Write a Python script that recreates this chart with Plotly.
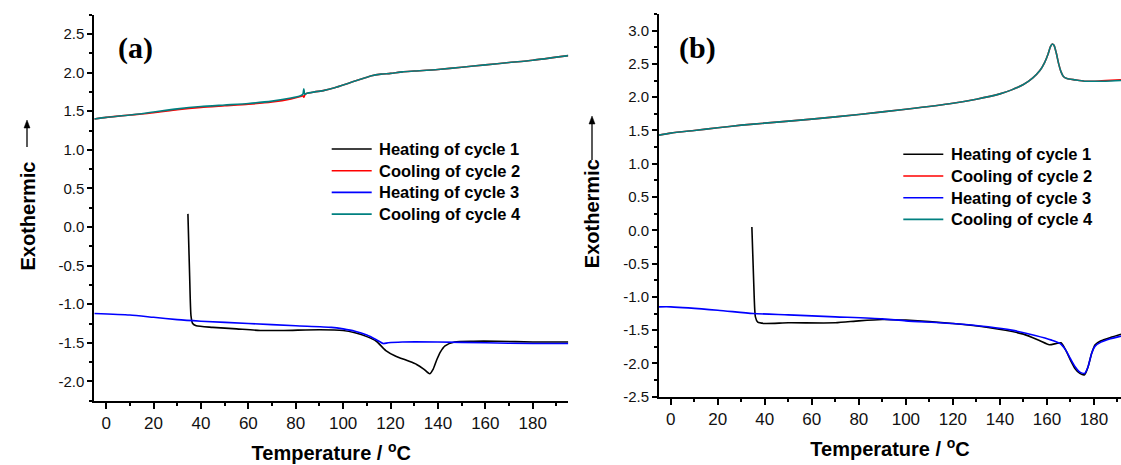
import plotly.graph_objects as go

# ---------------- data ----------------
names = ["Heating of cycle 1", "Cooling of cycle 2", "Heating of cycle 3", "Cooling of cycle 4"]
colors = ["#000000", "#ff0000", "#0000ff", "#008080"]

# panel (a)
a_T_cool = [-5, 0, 10, 20, 30, 40, 50, 60, 70, 78, 82, 83, 83.4, 83.8, 84.5, 88, 92, 96, 100, 104, 108,
            112, 116, 120, 125, 130, 140, 150, 160, 170, 180, 190, 195]
a_cool4 = [1.40, 1.42, 1.45, 1.49, 1.53, 1.56, 1.58, 1.60, 1.63, 1.67, 1.70, 1.72, 1.79, 1.72, 1.73, 1.75,
           1.77, 1.80, 1.84, 1.88, 1.92, 1.96, 1.98, 1.99, 2.01, 2.02, 2.04, 2.07, 2.10, 2.13, 2.16, 2.20, 2.22]
a_cool2 = [1.40, 1.42, 1.45, 1.48, 1.52, 1.55, 1.57, 1.59, 1.62, 1.66, 1.69, 1.70, 1.68, 1.71, 1.73, 1.75,
           1.77, 1.80, 1.84, 1.88, 1.92, 1.96, 1.98, 1.99, 2.01, 2.02, 2.04, 2.07, 2.10, 2.13, 2.16, 2.20, 2.22]
a_T_h1 = [34.5, 35.2, 35.8, 36.5, 38, 45, 55, 65, 75, 90, 100, 105, 110, 114, 118, 122, 127, 131, 134,
          136.5, 138, 139.5, 141, 143, 147, 155, 165, 180, 195]
a_heat1 = [0.17, -0.60, -1.15, -1.25, -1.28, -1.30, -1.32, -1.34, -1.34, -1.33, -1.34, -1.37, -1.42, -1.48,
           -1.60, -1.67, -1.73, -1.78, -1.84, -1.90, -1.84, -1.72, -1.62, -1.54, -1.49, -1.48, -1.48,
           -1.49, -1.49]
a_T_h3 = [-5, 10, 20, 30, 40, 60, 80, 95, 100, 105, 110, 114, 117, 119, 125, 140, 160, 180, 195]
a_heat3 = [-1.12, -1.14, -1.17, -1.20, -1.22, -1.25, -1.28, -1.30, -1.32, -1.35, -1.40, -1.46, -1.51,
           -1.50, -1.49, -1.49, -1.50, -1.51, -1.51]

# panel (b)
b_T_cool = [-5, 0, 10, 20, 30, 40, 60, 80, 100, 120, 130, 140, 145, 150, 154, 157, 159, 160.5, 161.5,
            162.3, 163, 164, 165, 166, 167, 168.5, 172, 176, 180, 185, 191.5]
b_cool4 = [1.43, 1.46, 1.50, 1.54, 1.58, 1.61, 1.67, 1.74, 1.82, 1.91, 1.97, 2.05, 2.11, 2.19, 2.29, 2.40,
           2.52, 2.65, 2.76, 2.80, 2.78, 2.66, 2.50, 2.38, 2.31, 2.28, 2.26, 2.24, 2.24, 2.24, 2.25]
b_cool2 = [1.43, 1.46, 1.50, 1.54, 1.58, 1.61, 1.67, 1.74, 1.82, 1.91, 1.97, 2.05, 2.11, 2.19, 2.29, 2.40,
           2.52, 2.65, 2.76, 2.80, 2.78, 2.66, 2.50, 2.38, 2.31, 2.28, 2.26, 2.24, 2.24, 2.25, 2.26]
b_T_h1 = [34.5, 35.3, 36, 37, 40, 50, 70, 80, 90, 100, 120, 135, 150, 157, 161, 164, 166, 168, 170, 172,
          174, 176, 177.5, 179, 180.5, 183, 187, 191.5]
b_heat1 = [0.05, -0.80, -1.30, -1.38, -1.40, -1.39, -1.39, -1.36, -1.34, -1.35, -1.40, -1.46, -1.56, -1.66,
           -1.72, -1.70, -1.69, -1.80, -1.95, -2.08, -2.15, -2.17, -2.05, -1.85, -1.72, -1.66, -1.61, -1.56]
b_T_h3 = [-5, 0, 20, 35, 50, 70, 90, 100, 120, 135, 145, 155, 162, 165.5, 168, 170, 172, 174, 176, 177.5,
          179, 180.5, 183, 187, 191.5]
b_heat3 = [-1.15, -1.15, -1.20, -1.25, -1.27, -1.30, -1.33, -1.36, -1.40, -1.45, -1.50, -1.58, -1.65, -1.70,
           -1.80, -1.93, -2.05, -2.13, -2.15, -2.05, -1.85, -1.74, -1.68, -1.63, -1.59]

x_ticks = [0, 20, 40, 60, 80, 100, 120, 140, 160, 180]
a_y_ticks = [-2.0, -1.5, -1.0, -0.5, 0.0, 0.5, 1.0, 1.5, 2.0, 2.5]
b_y_ticks = [-2.5, -2.0, -1.5, -1.0, -0.5, 0.0, 0.5, 1.0, 1.5, 2.0, 2.5, 3.0]
x_title = "Temperature / <sup>o</sup>C"
y_title = "Exothermic"

# ---------------- figure ----------------
W, H = 1121, 465
fig = go.Figure()

panels = [
    ("x", "y", [(a_T_h1, a_heat1), (a_T_cool, a_cool2), (a_T_h3, a_heat3), (a_T_cool, a_cool4)]),
    ("x2", "y2", [(b_T_h1, b_heat1), (b_T_cool, b_cool2), (b_T_h3, b_heat3), (b_T_cool, b_cool4)]),
]
for xa, ya, series in panels:
    for (xs, ys), nm, col in zip(series, names, colors):
        fig.add_trace(go.Scatter(x=xs, y=ys, mode="lines", name=nm, xaxis=xa, yaxis=ya, showlegend=False,
                                 line=dict(color=col, width=1.6, shape="spline", smoothing=0.6)))

FONT = "Liberation Sans, Arial, sans-serif"
TFONT = dict(family=FONT, size=20, color="black", weight="bold")
LFONT = dict(family=FONT, size=16.5, color="black", weight="bold")
axis_common = dict(showline=True, linecolor="black", linewidth=2, ticks="outside", tickcolor="black",
                   tickwidth=2, showgrid=False, zeroline=False, mirror=False, automargin=False)
xcommon = dict(axis_common, tickvals=x_ticks, ticktext=[str(v) for v in x_ticks], ticklen=6,
               tickfont=dict(family=FONT, size=17, color="#111"),
               title=dict(text=x_title, font=TFONT, standoff=14),
               minor=dict(dtick=10, tick0=0, ticklen=3, tickwidth=2, tickcolor="black", ticks="outside"))
ycommon = dict(axis_common, ticklen=5, tickfont=dict(family=FONT, size=15, color="#111"),
               minor=dict(dtick=0.25, tick0=0, ticklen=3, tickwidth=2, tickcolor="black", ticks="outside"))
pad = "&nbsp;" * 3

fig.update_layout(
    width=W, height=H, margin=dict(l=0, r=0, t=0, b=0),
    paper_bgcolor="white", plot_bgcolor="white", showlegend=False,
    xaxis=dict(xcommon, domain=[94.3 / W, 568.3 / W], range=[-5, 195], anchor="y"),
    yaxis=dict(ycommon, domain=[1 - 400.7 / H, 1 - 14.7 / H], range=[-2.25, 2.75], anchor="x",
               tickvals=a_y_ticks, ticktext=[f"{v:.1f}" for v in a_y_ticks],
               title=dict(text=y_title + pad, font=TFONT, standoff=17)),
    xaxis2=dict(xcommon, domain=[659 / W, 1.0], range=[-5, 191.5], anchor="y2"),
    yaxis2=dict(ycommon, domain=[1 - 396.7 / H, 1 - 14 / H], range=[-2.5, 3.25], anchor="x2",
                tickvals=b_y_ticks, ticktext=[f"{v:.1f}" for v in b_y_ticks],
                title=dict(text=y_title + pad, font=TFONT, standoff=18)),
)

ann, shapes = [], []

# legends drawn as line samples + labels (left and right panels)
for x0, y0 in [(331.7, 149.0), (903.3, 154.3)]:
    for i, (nm, col) in enumerate(zip(names, colors)):
        yy = y0 + i * 21.7
        shapes.append(dict(type="line", xref="paper", yref="paper", x0=x0 / W, x1=(x0 + 40) / W,
                           y0=1 - yy / H, y1=1 - yy / H, line=dict(color=col, width=1.6)))
        ann.append(dict(text=nm, x=(x0 + 45.5) / W, y=1 - yy / H, xref="paper", yref="paper",
                        showarrow=False, xanchor="left", yanchor="middle", font=LFONT))

# arrows next to y titles (drawn as shapes)
px = lambda v: v / W
py = lambda v: 1 - v / H
for cx, head, tail in [(27, 120, 147), (592, 116, 160)]:
    shapes.append(dict(type="line", xref="paper", yref="paper", x0=px(cx), x1=px(cx),
                       y0=py(tail), y1=py(head + 5), line=dict(color="black", width=1.3)))
    shapes.append(dict(type="path", xref="paper", yref="paper",
                       path=f"M {px(cx)} {py(head)} L {px(cx - 3)} {py(head + 8)} L {px(cx + 3)} {py(head + 8)} Z",
                       fillcolor="black", line=dict(color="black", width=0.5)))

# panel labels
PFONT = dict(family="Liberation Serif, Times New Roman, serif", size=30, color="black", weight="bold")
ann.append(dict(text="(a)", x=px(135), y=py(48), xref="paper", yref="paper", showarrow=False,
                xanchor="center", yanchor="middle", font=PFONT))
ann.append(dict(text="(b)", x=px(697), y=py(48), xref="paper", yref="paper", showarrow=False,
                xanchor="center", yanchor="middle", font=PFONT))
fig.update_layout(annotations=ann, shapes=shapes)

fig.write_html("out.html")
